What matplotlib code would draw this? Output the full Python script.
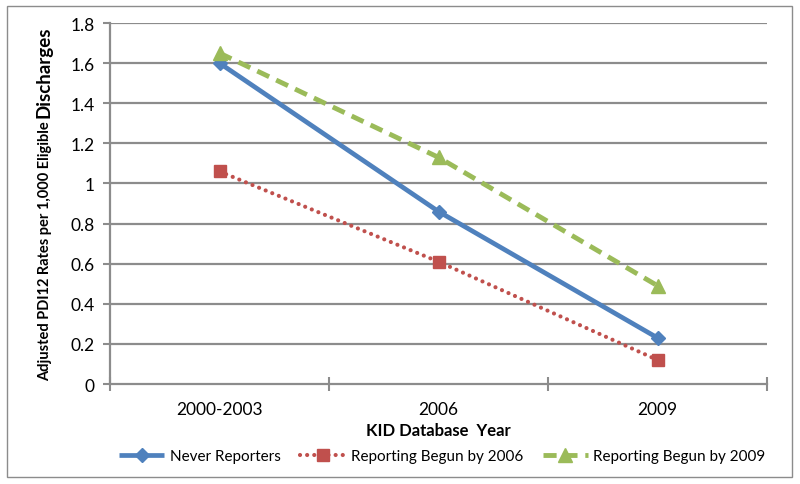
import matplotlib
matplotlib.use("Agg")
import matplotlib.pyplot as plt
from matplotlib.patches import Rectangle

categories = ["2000-2003", "2006", "2009"]
never_reporters = [1.60, 0.86, 0.23]
begun_2006 = [1.06, 0.61, 0.12]
begun_2009 = [1.65, 1.13, 0.49]
yticks = [0, 0.2, 0.4, 0.6, 0.8, 1, 1.2, 1.4, 1.6, 1.8]
ytick_labels = ["0", "0.2", "0.4", "0.6", "0.8", "1", "1.2", "1.4", "1.6", "1.8"]

plt.rcParams['font.family'] = ['Lato', 'DejaVu Sans']

fig = plt.figure(figsize=(8, 4.85), dpi=100)
ax = fig.add_axes([0.1375, 0.206, 0.959 - 0.1375, 0.9505 - 0.206])

grid_c = "#8c8c8c"
x = list(range(len(categories)))

ax.plot(x, never_reporters, color="#4F81BD", lw=3.4, marker="D", ms=7,
        label="Never Reporters", solid_capstyle="butt", zorder=3)
ax.plot(x, begun_2006, color="#C0504D", lw=3, linestyle=(0, (0.01, 1.7)),
        dash_capstyle="round", marker="s", ms=8.5, label="Reporting Begun by 2006", zorder=3)
ax.plot(x, begun_2009, color="#9BBB59", lw=3.5, linestyle=(0, (2.7, 1.6)),
        marker="^", ms=10, label="Reporting Begun by 2009", zorder=3)

ax.set_xlim(-0.5, len(categories) - 0.5)
ax.set_ylim(0, 1.8)
ax.set_yticks(yticks)
ax.set_yticklabels(ytick_labels, fontsize=12.5)
for yv in yticks[1:]:
    ax.axhline(yv, color=grid_c, lw=1.6, zorder=1)

ax.set_xticks([i - 0.5 for i in range(len(categories) + 1)])
ax.set_xticklabels([])
ax.set_xticks(x, minor=True)
ax.set_xticklabels(categories, minor=True, fontsize=12.5)
ax.tick_params(axis="x", which="major", direction="inout", length=10, width=1.5, color=grid_c)
ax.tick_params(axis="x", which="minor", length=0, pad=12)
ax.tick_params(axis="y", direction="out", length=5, width=1.5, color=grid_c, pad=6)

for s in ["top", "right"]:
    ax.spines[s].set_visible(False)
for s in ["left", "bottom"]:
    ax.spines[s].set_color(grid_c)
    ax.spines[s].set_linewidth(1.6)

fig.text(0.5475, 1 - 431 / 485, "KID Database  Year", ha="center", va="center",
         fontsize=12, fontweight="bold")

# y label with mixed sizes
t1 = fig.text(45 / 800, 1 - 381 / 485, "Adjusted PDI12 Rates per 1,000 Eligible ",
              rotation=90, ha="center", va="bottom", fontsize=10.5, fontweight="bold")
fig.canvas.draw()
bb = t1.get_window_extent(renderer=fig.canvas.get_renderer())
top_frac = bb.y1 / fig.bbox.height
fig.text(44 / 800, top_frac, "Discharges", rotation=90, ha="center", va="bottom",
         fontsize=13.5, fontweight="bold")

fig.legend(loc="center", bbox_to_anchor=(0.553, 1 - 457 / 485), ncol=3, frameon=False,
           fontsize=11, handlelength=2.95, columnspacing=1.3, handletextpad=0.35)

fig.patches.append(Rectangle((0.00875, 0.0144), 0.98125, 0.9712, transform=fig.transFigure,
                             fill=False, edgecolor="#8c8c8c", lw=1))

fig.savefig("out.png", dpi=100)
